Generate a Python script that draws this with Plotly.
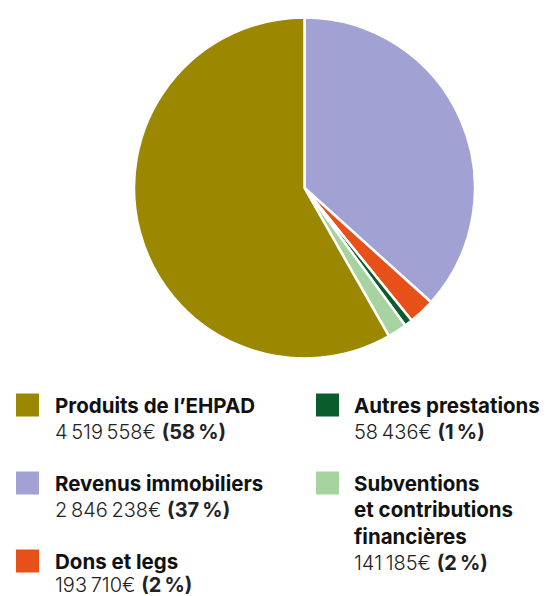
import plotly.graph_objects as go

# Data (pie order: clockwise from 12 o'clock)
pie_labels = ["Revenus immobiliers", "Dons et legs", "Autres prestations",
              "Subventions et contributions financières", "Produits de l'EHPAD"]
pie_values = [2846238, 193710, 58436, 141185, 4519558]
pie_colors = ["#A1A1D3", "#E8501A", "#0B5C2C", "#A7D3A1", "#9C8700"]

# Legend content
leg_titles = [["Produits de l’EHPAD"], ["Revenus immobiliers"], ["Dons et legs"],
              ["Autres prestations"], ["Subventions", "et contributions", "financières"]]
leg_values = [4519558, 2846238, 193710, 58436, 141185]
leg_pcts = [58, 37, 2, 1, 2]
leg_colors = ["#9C8700", "#A1A1D3", "#E8501A", "#0B5C2C", "#A7D3A1"]

W, H = 550, 596

def fmt(v):
    return f"{v:,}".replace(",", "\u2009") + "€"

fig = go.Figure(go.Pie(
    labels=pie_labels, values=pie_values, sort=False, direction="clockwise",
    rotation=0, marker=dict(colors=pie_colors, line=dict(color="white", width=2.5)),
    textinfo="none", hoverinfo="label+value+percent",
    domain=dict(x=[134/W, 475/W], y=[1-359/H, 1-17/H]),
))

# legend layout positions (pixels)
cols = [(16, 53), (316, 352)]
rows_y = [405, 483, 561]
items = [(0, 0), (0, 1), (0, 2), (1, 0), (1, 1)]
line_h = 26.5

shapes = []
annotations = []
for i, (c, r) in enumerate(items):
    sx, tx = cols[c]
    y0 = rows_y[r]
    shapes.append(dict(type="rect", xref="paper", yref="paper",
                       x0=sx/W, x1=(sx+23)/W, y0=1-(y0+11.5)/H, y1=1-(y0-11.5)/H,
                       fillcolor=leg_colors[i], line=dict(width=0)))
    lines = leg_titles[i]
    for k, t in enumerate(lines):
        annotations.append(dict(xref="paper", yref="paper", x=tx/W, y=1-(y0+k*line_h)/H,
                                xanchor="left", yanchor="middle", showarrow=False,
                                text=f"<b>{t}</b>",
                                font=dict(family="Inter", size=20.5, color="#111111")))
    yv = min(y0 + len(lines)*line_h, 585)
    annotations.append(dict(xref="paper", yref="paper", x=tx/W, y=1-yv/H,
                            xanchor="left", yanchor="middle", showarrow=False,
                            text=f"{fmt(leg_values[i])} <b>({leg_pcts[i]}\u2009%)</b>",
                            font=dict(family="Inter", size=20, weight=300, color="#222222")))

fig.update_layout(width=W, height=H, margin=dict(l=0, r=0, t=0, b=0),
                  paper_bgcolor="white", plot_bgcolor="white", showlegend=False,
                  shapes=shapes, annotations=annotations)

fig.write_html("out.html", config={"displayModeBar": False},
               post_script="document.body.style.margin='0';document.body.style.overflow='hidden';")
